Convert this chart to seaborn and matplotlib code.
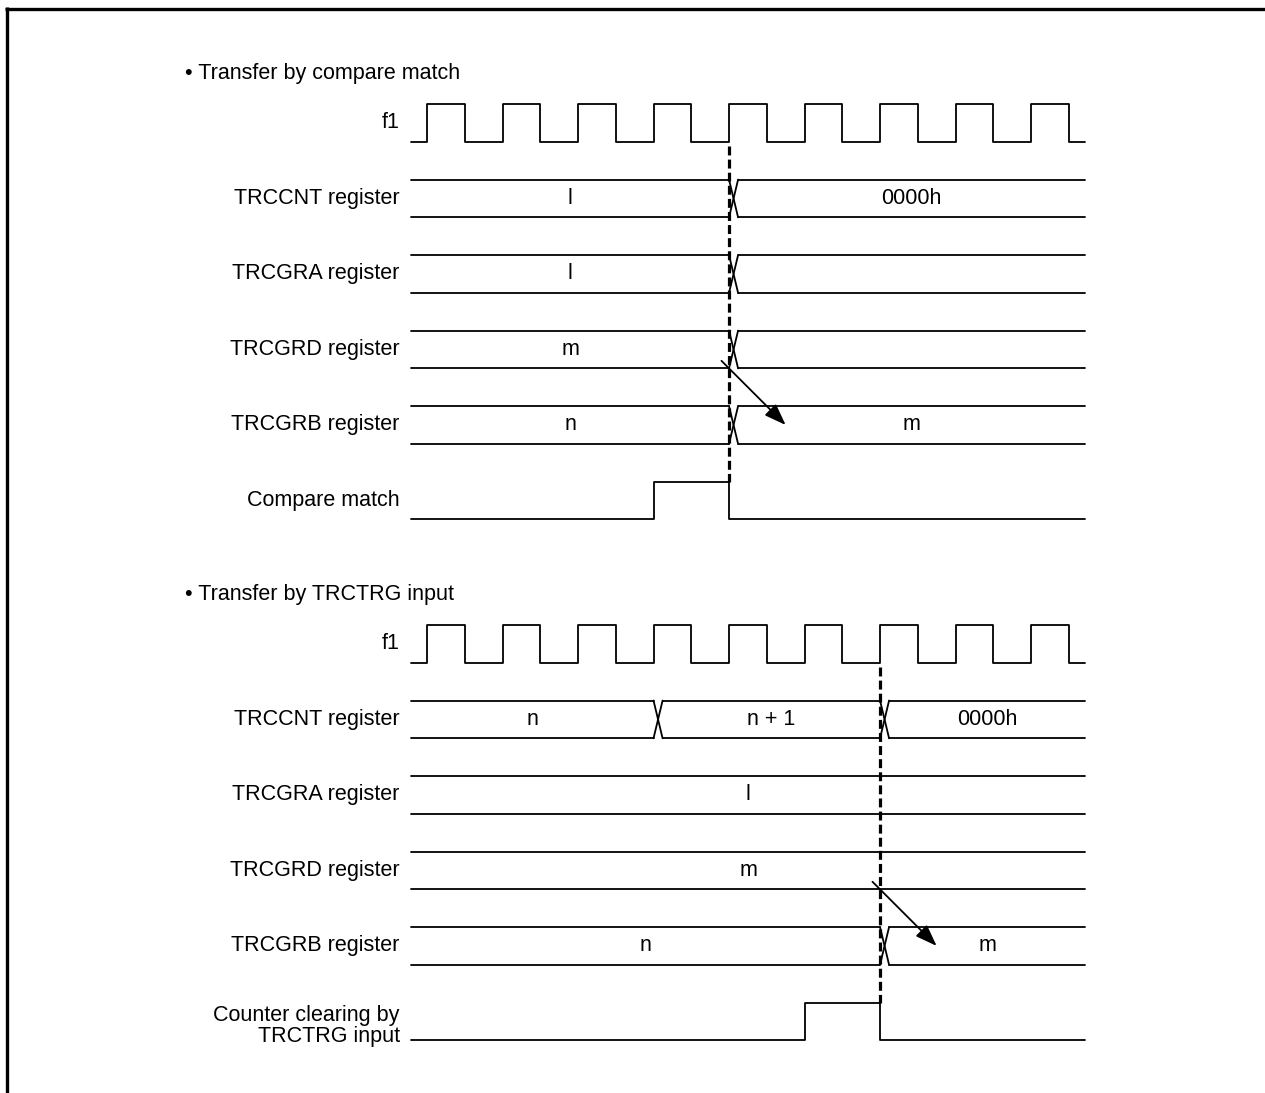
import numpy as np
import matplotlib
matplotlib.use("Agg")
import matplotlib.pyplot as plt
import seaborn as sns

# Donnees du chronogramme (temps en periodes de f1, t=0 au premier front montant)
f1_rises = [0, 1, 2, 3, 4, 5, 6, 7, 8]
t_start, t_end = -0.21, 8.72
cross_w = 0.12

# Partie haute : transfert par compare match
top_title = "\u2022 Transfer by compare match"
top_rows = ["TRCCNT register", "TRCGRA register", "TRCGRD register", "TRCGRB register"]
top_edges = [[4], [4], [4], [4]]
top_values = [["l", "0000h"], ["l", ""], ["m", ""], ["n", "m"]]
top_pulse_label = ["Compare match"]
top_pulse = (3, 4)
top_event = 4

# Partie basse : transfert par entree TRCTRG
bot_title = "\u2022 Transfer by TRCTRG input"
bot_rows = ["TRCCNT register", "TRCGRA register", "TRCGRD register", "TRCGRB register"]
bot_edges = [[3, 6], [], [], [6]]
bot_values = [["n", "n + 1", "0000h"], ["l"], ["m"], ["n", "m"]]
bot_pulse_label = ["Counter clearing by", "TRCTRG input"]
bot_pulse = (5, 6)
bot_event = 6

sns.set_theme(style="white")
plt.rcParams['font.family'] = ['Liberation Sans', 'DejaVu Sans']
plt.rcParams['text.color'] = 'black'
FS = 15.5
LW = 1.3
AMP = 0.25

fig = plt.figure(figsize=(12.65, 10.93), dpi=100)
ax = fig.add_axes([0, 0, 1, 1])
ax.set_xlim(-5.656, 11.099)
ax.set_ylim(12.848, -1.629)
ax.axis("off")


def steps(xs, ys):
    # points d'un signal en escalier
    px, py = [], []
    for i, (x, y) in enumerate(zip(xs, ys)):
        if i > 0:
            px.append(x)
            py.append(ys[i - 1])
        px.append(x)
        py.append(y)
    return px, py


def draw_section(base, title, rows, edges, values, pulse_label, pulse, event):
    ax.text(-3.2, base - 0.66, title, fontsize=FS, ha="left", va="center")

    # horloge f1
    xs, ys = [t_start], [0]
    for r in f1_rises:
        xs += [r, r + 0.5]
        ys += [1, 0]
    xs.append(t_end)
    ys.append(0)
    px, py = steps(xs, ys)
    py = [base + AMP - 2 * AMP * v for v in py]
    sns.lineplot(x=px, y=py, ax=ax, color="black", lw=LW, estimator=None, sort=False)
    ax.text(-0.36, base, "f1", fontsize=FS, ha="right", va="center")

    # registres (bus)
    for i, (name, ed, vals) in enumerate(zip(rows, edges, values)):
        yc = base + i + 1
        ax.text(-0.36, yc, name, fontsize=FS, ha="right", va="center")
        bounds = [t_start] + ed + [t_end]
        for j in range(len(bounds) - 1):
            s = bounds[j] + (cross_w if j > 0 else 0)
            e = bounds[j + 1]
            ax.plot([s, e], [yc - AMP, yc - AMP], color="black", lw=LW)
            ax.plot([s, e], [yc + AMP, yc + AMP], color="black", lw=LW)
            if vals[j]:
                ax.text((s + e) / 2, yc, vals[j], fontsize=FS, ha="center", va="center")
        for e in ed:
            ax.plot([e, e + cross_w], [yc - AMP, yc + AMP], color="black", lw=LW)
            ax.plot([e, e + cross_w], [yc + AMP, yc - AMP], color="black", lw=LW)

    # impulsion
    yp = base + 5
    px, py = steps([t_start, pulse[0], pulse[1], t_end], [0, 1, 0, 0])
    py = [yp + AMP - 2 * AMP * v for v in py]
    sns.lineplot(x=px, y=py, ax=ax, color="black", lw=LW, estimator=None, sort=False)
    if len(pulse_label) == 1:
        ax.text(-0.36, yp, pulse_label[0], fontsize=FS, ha="right", va="center")
    else:
        ax.text(-0.36, yp - 0.08, pulse_label[0], fontsize=FS, ha="right", va="center")
        ax.text(-0.36, yp + 0.2, pulse_label[1], fontsize=FS, ha="right", va="center")

    # ligne pointillee de l'evenement
    ax.plot([event, event], [base + AMP + 0.05, yp - AMP], color="black", lw=2.3,
            dashes=(2.8, 1.3))

    # fleche GRD -> GRB
    ax.annotate("", xy=(event + 0.75, base + 4.0), xytext=(event - 0.1, base + 3.15),
                arrowprops=dict(arrowstyle="-|>,head_length=1.1,head_width=0.4",
                                color="black", lw=1.3, shrinkA=0, shrinkB=0))


draw_section(0.0, top_title, top_rows, top_edges, top_values, top_pulse_label, top_pulse, top_event)
draw_section(6.9, bot_title, bot_rows, bot_edges, bot_values, bot_pulse_label, bot_pulse, bot_event)

# cadre (haut et gauche)
ax.plot([5 / 1265, 1], [1 - 8.5 / 1093, 1 - 8.5 / 1093], transform=ax.transAxes,
        color="black", lw=2.4, solid_capstyle="butt", clip_on=False)
ax.plot([6.5 / 1265, 6.5 / 1265], [1 - 7 / 1093, 0], transform=ax.transAxes,
        color="black", lw=2.4, solid_capstyle="butt", clip_on=False)

fig.savefig("out.png", dpi=100)
